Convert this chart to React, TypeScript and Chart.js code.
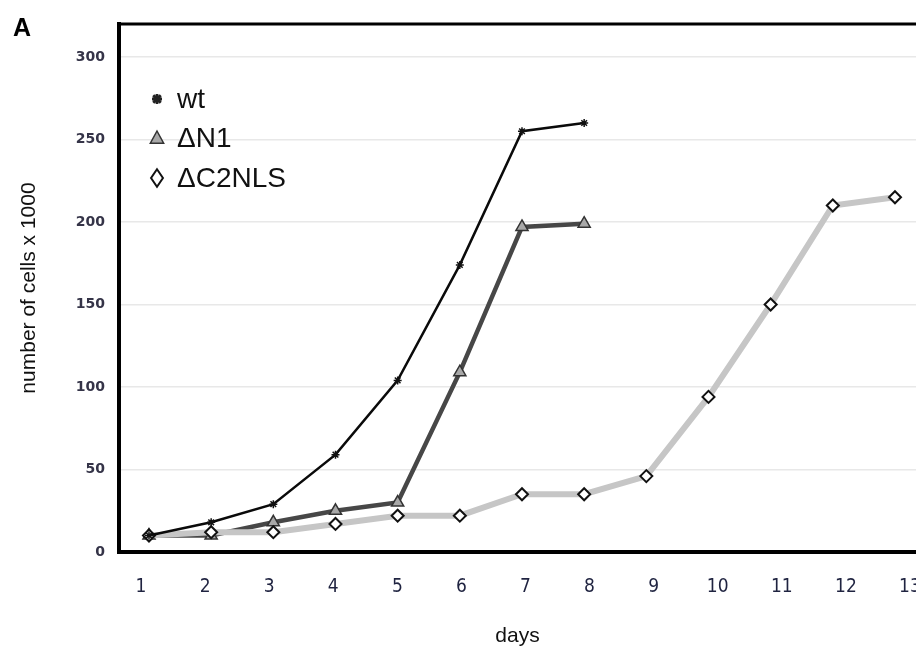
import React, { useEffect, useRef } from 'react';
import { Chart, registerables } from 'chart.js';

Chart.register(...registerables);

// ---- data ----
const seriesLabels = ['wt', 'ΔN1', 'ΔC2NLS'];
const wtDays = [1, 2, 3, 4, 5, 6, 7, 8];
const wtValues = [10, 18, 29, 59, 104, 174, 255, 260];
const n1Days = [1, 2, 3, 4, 5, 6, 7, 8];
const n1Values = [10, 10, 18, 25, 30, 109, 197, 199];
const c2Days = [1, 2, 3, 4, 5, 6, 7, 8, 9, 10, 11, 12, 13];
const c2Values = [10, 12, 12, 17, 22, 22, 35, 35, 46, 94, 150, 210, 215];
const yTickValues = [0, 50, 100, 150, 200, 250, 300];
const xTickValues = [1, 2, 3, 4, 5, 6, 7, 8, 9, 10, 11, 12, 13];
const panelLabel = 'A';
const xTitle = 'days';
const yTitle = 'number of cells x 1000';

const toPts = (xs: number[], ys: number[]) => xs.map((x, i) => ({ x, y: ys[i] }));

function drawMarker(ctx: CanvasRenderingContext2D, style: string, x: number, y: number, r: number, fill: string, stroke: string, lw: number) {
  ctx.save();
  ctx.fillStyle = fill;
  ctx.strokeStyle = stroke;
  ctx.lineWidth = lw;
  ctx.beginPath();
  if (style === 'star') {
    const d = r * 0.75;
    ctx.moveTo(x - d, y - d); ctx.lineTo(x + d, y + d);
    ctx.moveTo(x + d, y - d); ctx.lineTo(x - d, y + d);
    ctx.moveTo(x, y - r); ctx.lineTo(x, y + r);
    ctx.moveTo(x - r, y); ctx.lineTo(x + r, y);
    ctx.stroke();
  } else if (style === 'triangle') {
    ctx.moveTo(x, y - r);
    ctx.lineTo(x + r * 0.95, y + r * 0.75);
    ctx.lineTo(x - r * 0.95, y + r * 0.75);
    ctx.closePath();
    ctx.fill(); ctx.stroke();
  } else {
    ctx.moveTo(x, y - r * 1.25);
    ctx.lineTo(x + r * 0.85, y);
    ctx.lineTo(x, y + r * 1.25);
    ctx.lineTo(x - r * 0.85, y);
    ctx.closePath();
    ctx.fill(); ctx.stroke();
  }
  ctx.restore();
}

const decorPlugin = {
  id: 'decor',
  afterDraw(chart: any) {
    const { ctx, chartArea } = chart;
    ctx.save();
    // top frame line
    ctx.strokeStyle = '#000';
    ctx.lineWidth = 3;
    ctx.beginPath();
    ctx.moveTo(chartArea.left - 2, chartArea.top);
    ctx.lineTo(chartArea.right, chartArea.top);
    ctx.stroke();
    // panel label
    ctx.fillStyle = '#000';
    ctx.font = 'bold 25px "Liberation Sans", Arial, sans-serif';
    ctx.textAlign = 'center';
    ctx.textBaseline = 'middle';
    ctx.fillText(panelLabel, 22, 29);
    // legend
    const rows = [99, 138, 178];
    const markerStyles = [
      { s: 'star', r: 5, fill: '#222', stroke: '#222', lw: 2.8 },
      { s: 'triangle', r: 7, fill: '#a8a8a8', stroke: '#333', lw: 1.5 },
      { s: 'diamond', r: 7, fill: '#fff', stroke: '#111', lw: 2 },
    ];
    ctx.font = '28px "Liberation Sans", Arial, sans-serif';
    ctx.textAlign = 'left';
    ctx.textBaseline = 'middle';
    chart.data.datasets.forEach((ds: any, i: number) => {
      const m = markerStyles[i];
      drawMarker(ctx, m.s, 157, rows[i], m.r, m.fill, m.stroke, m.lw);
      ctx.fillStyle = '#111';
      ctx.fillText(ds.label, 177, rows[i] + 1);
    });
    ctx.restore();
  },
};

export default function App() {
  const ref = useRef<HTMLCanvasElement | null>(null);
  useEffect(() => {
    if (!ref.current) return;
    const chart = new Chart(ref.current, {
      type: 'line',
      data: {
        datasets: [
          {
            label: seriesLabels[0],
            data: toPts(wtDays, wtValues),
            borderColor: '#0a0a0a',
            borderWidth: 2.5,
            pointStyle: 'star',
            pointRadius: 4,
            pointBorderWidth: 1.5,
            pointBorderColor: '#111',
            pointBackgroundColor: '#111',
            order: 0,
          },
          {
            label: seriesLabels[1],
            data: toPts(n1Days, n1Values),
            borderColor: '#474747',
            borderWidth: 4.5,
            pointStyle: 'triangle',
            pointRadius: 7,
            pointBorderWidth: 1.5,
            pointBorderColor: '#333',
            pointBackgroundColor: '#a8a8a8',
            order: 2,
          },
          {
            label: seriesLabels[2],
            data: toPts(c2Days, c2Values),
            borderColor: '#c6c6c6',
            borderWidth: 6,
            pointStyle: 'rectRot',
            pointRadius: 6,
            pointBorderWidth: 2,
            pointBorderColor: '#111',
            pointBackgroundColor: '#fff',
            order: 1,
          },
        ],
      },
      options: {
        animation: false,
        responsive: true,
        maintainAspectRatio: false,
        layout: { padding: { top: 24, left: 0, right: 0, bottom: 0 }, autoPadding: false },
        plugins: { legend: { display: false }, tooltip: { enabled: false } },
        elements: { line: { tension: 0 } },
        scales: {
          x: {
            type: 'linear',
            position: 'bottom',
            display: false,
            min: 0.5175,
            max: 13.338,
          },
          xt: {
            type: 'linear',
            position: 'bottom',
            min: 0.657,
            max: 13.094,
            afterBuildTicks: (s: any) => { s.ticks = xTickValues.map((v) => ({ value: v })); },
            afterFit: (s: any) => { s.height = 96; s.paddingLeft = 0; s.paddingRight = 0; },
            grid: { display: false, drawTicks: false },
            border: { display: true, color: '#000', width: 4 },
            ticks: {
              autoSkip: false,
              maxRotation: 0,
              padding: 24,
              color: '#1f2340',
              font: { family: '"Liberation Sans Narrow", "DejaVu Sans Condensed", sans-serif', size: 19 },
              callback: (v: any) => String(v),
            },
            title: {
              display: true,
              text: xTitle,
              color: '#111',
              font: { family: '"Liberation Sans", Arial, sans-serif', size: 21, lineHeight: 1.1 },
              padding: { top: 0, bottom: 0 },
            },
          },
          y: {
            type: 'linear',
            position: 'left',
            min: 0,
            max: 320,
            afterBuildTicks: (s: any) => { s.ticks = yTickValues.map((v) => ({ value: v })); },
            afterFit: (s: any) => { s.width = 119; s.paddingTop = 0; s.paddingBottom = 0; },
            grid: { display: true, drawTicks: false, color: (c: any) => (c.tick && c.tick.value === 0 ? 'rgba(0,0,0,0)' : '#e8e8e8'), lineWidth: 1.5 },
            border: { display: true, color: '#000', width: 4 },
            ticks: {
              padding: 14,
              color: '#353448',
              font: { family: '"DejaVu Sans", sans-serif', size: 14, weight: 'bold' },
              callback: (v: any) => String(v),
            },
            title: {
              display: true,
              text: yTitle,
              color: '#111',
              font: { family: '"Liberation Sans", Arial, sans-serif', size: 21 },
              padding: { top: 17, bottom: 0 },
            },
          },
        },
      },
      plugins: [decorPlugin],
    } as any);
    return () => chart.destroy();
  }, []);
  return (
    <div style={{ position: 'absolute', left: 0, top: 0, width: 916, height: 648, background: '#fff' }}>
      <canvas ref={ref} />
    </div>
  );
}
